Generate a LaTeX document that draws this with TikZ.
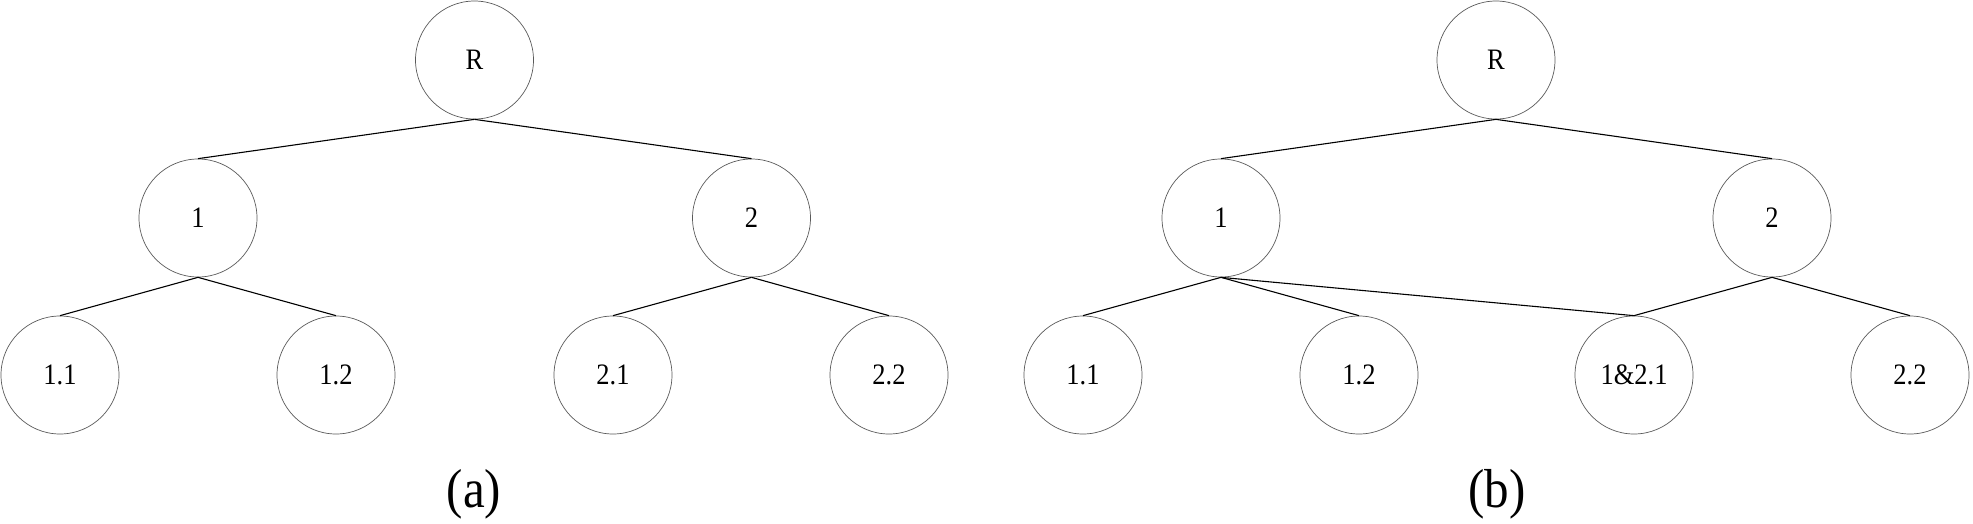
\documentclass[tikz,border=0pt]{standalone}
\usepackage{graphicx}
\usepackage{fontspec}
\setmainfont{Liberation Serif}
\newcommand{\tallt}[1]{\scalebox{1}[1.12]{#1}}
\begin{document}
\begin{tikzpicture}[x=1pt,y=-1pt,
  tnode/.style={circle,draw=black!65,line width=0.7pt,minimum size=118pt,inner sep=0pt,font=\fontsize{26.5}{30}\selectfont},
  tedge/.style={draw=black,line width=1.1pt},
  subcap/.style={font=\fontsize{49}{55}\selectfont,inner sep=0pt}]
\useasboundingbox (0,0) rectangle (1973,523);
% (a)
\node[tnode] (aR) at (474.5,60) {\tallt{R}};
\node[tnode] (a1) at (198,218) {\tallt{1}};
\node[tnode] (a2) at (751.5,218) {\tallt{2}};
\node[tnode] (a11) at (60,375) {\tallt{1.1}};
\node[tnode] (a12) at (336,375) {\tallt{1.2}};
\node[tnode] (a21) at (613,375) {\tallt{2.1}};
\node[tnode] (a22) at (889,375) {\tallt{2.2}};
\draw[tedge] (aR.south) -- (a1.north);
\draw[tedge] (aR.south) -- (a2.north);
\draw[tedge] (a1.south) -- (a11.north);
\draw[tedge] (a1.south) -- (a12.north);
\draw[tedge] (a2.south) -- (a21.north);
\draw[tedge] (a2.south) -- (a22.north);
\node[subcap] (capa) at (474,494) {\tallt{(a)}};
% (b)
\node[tnode] (bR) at (1496,60) {\tallt{R}};
\node[tnode] (b1) at (1221,218) {\tallt{1}};
\node[tnode] (b2) at (1772,218) {\tallt{2}};
\node[tnode] (b11) at (1083,375) {\tallt{1.1}};
\node[tnode] (b12) at (1359,375) {\tallt{1.2}};
\node[tnode] (b21) at (1634,375) {\tallt{1\&2.1}};
\node[tnode] (b22) at (1910,375) {\tallt{2.2}};
\draw[tedge] (bR.south) -- (b1.north);
\draw[tedge] (bR.south) -- (b2.north);
\draw[tedge] (b1.south) -- (b11.north);
\draw[tedge] (b1.south) -- (b12.north);
\draw[tedge] (b1.south) -- (b21.north);
\draw[tedge] (b2.south) -- (b21.north);
\draw[tedge] (b2.south) -- (b22.north);
\node[subcap] (capb) at (1497,494) {\tallt{(b)}};
\end{tikzpicture}
\end{document}
